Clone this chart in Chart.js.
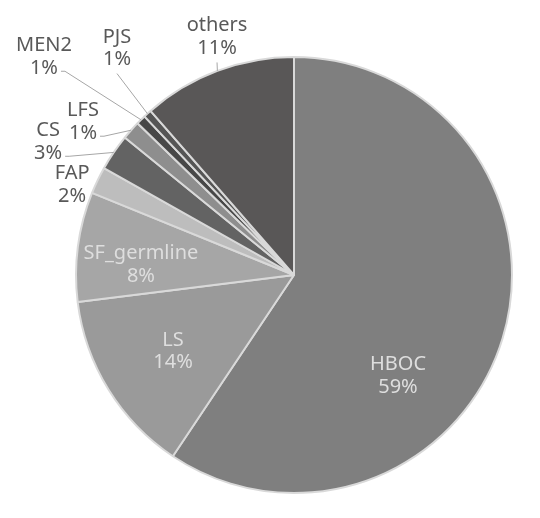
<!DOCTYPE html>
<html>
<head>
<meta charset="utf-8">
<script src="https://cdn.jsdelivr.net/npm/chart.js@4"></script>
<style>
  html, body { margin: 0; padding: 0; background: #fff; }
  #wrap { width: 540px; height: 518px; }
</style>
</head>
<body>
<div id="wrap"><canvas id="chart"></canvas></div>
<script>
// data (share of cases, clockwise from 12 o'clock)
const categories = ['HBOC', 'LS', 'SF_germline', 'FAP', 'CS', 'LFS', 'MEN2', 'PJS', 'others'];
const shares = [59.2, 13.6, 8.1, 2.0, 2.7, 1.4, 0.7, 0.6, 11.4];
const sliceColors = ['#7f7f7f', '#9a9a9a', '#a6a6a6', '#bdbdbd', '#636363', '#8e8e8e', '#474747', '#555555', '#595757'];

// label placement, in units of the pie radius from its centre
const labelSpots = [
    { dx: 0.477, dy: 0.463, inside: true },
    { dx: -0.555, dy: 0.349, inside: true },
    { dx: -0.702, dy: -0.046, inside: true },
    { dx: -1.018, dy: -0.413 },
    { dx: -1.128, dy: -0.610, leader: 'right' },
    { dx: -0.968, dy: -0.702, leader: 'right' },
    { dx: -1.147, dy: -1.000, leader: 'right' },
    { dx: -0.812, dy: -1.041, leader: 'bottom' },
    { dx: -0.353, dy: -1.092, leader: 'bottom' }
];

const FONT = '20px "Noto Sans", sans-serif';
const LINE_H = 22.5;

const pieLabels = {
    id: 'pieLabels',
    afterDatasetsDraw(chart) {
        const ctx = chart.ctx;
        const meta = chart.getDatasetMeta(0);
        const total = shares.reduce((a, b) => a + b, 0);
        ctx.save();
        ctx.font = FONT;
        ctx.textAlign = 'center';
        ctx.textBaseline = 'middle';
        meta.data.forEach((arc, i) => {
            const spot = labelSpots[i];
            const r = arc.outerRadius;
            const cx = arc.x + spot.dx * r;
            const cy = arc.y + spot.dy * r;
            const lines = [categories[i], Math.round(shares[i] / total * 100) + '%'];
            ctx.fillStyle = spot.inside ? '#dedede' : '#595959';
            lines.forEach((t, k) => {
                ctx.fillText(t, cx, cy + (k - 0.5) * LINE_H);
            });
            if (spot.leader) {
                const mid = (arc.startAngle + arc.endAngle) / 2;
                const ex = arc.x + Math.cos(mid) * r;
                const ey = arc.y + Math.sin(mid) * r;
                const lastW = ctx.measureText(lines[1]).width;
                let sx, sy;
                if (spot.leader === 'right') {
                    sx = cx + lastW / 2 + 3;
                    sy = cy + LINE_H / 2 + 3;
                } else {
                    sx = cx;
                    sy = cy + LINE_H + 3;
                }
                ctx.strokeStyle = '#a6a6a6';
                ctx.lineWidth = 1;
                ctx.beginPath();
                ctx.moveTo(sx, sy);
                if (spot.leader === 'right') {
                    ctx.lineTo(sx + 4, sy);
                }
                ctx.lineTo(ex, ey);
                ctx.stroke();
            }
        });
        ctx.restore();
    }
};

new Chart(document.getElementById('chart'), {
    type: 'pie',
    data: {
        labels: categories,
        datasets: [{
            data: shares,
            backgroundColor: sliceColors,
            borderColor: '#d9d9d9',
            borderWidth: 2
        }]
    },
    options: {
        responsive: true,
        maintainAspectRatio: false,
        animation: false,
        layout: { padding: { left: 75, right: 27, top: 56, bottom: 24 } },
        plugins: {
            legend: { display: false },
            tooltip: { enabled: false }
        }
    },
    plugins: [pieLabels]
});
</script>
</body>
</html>
